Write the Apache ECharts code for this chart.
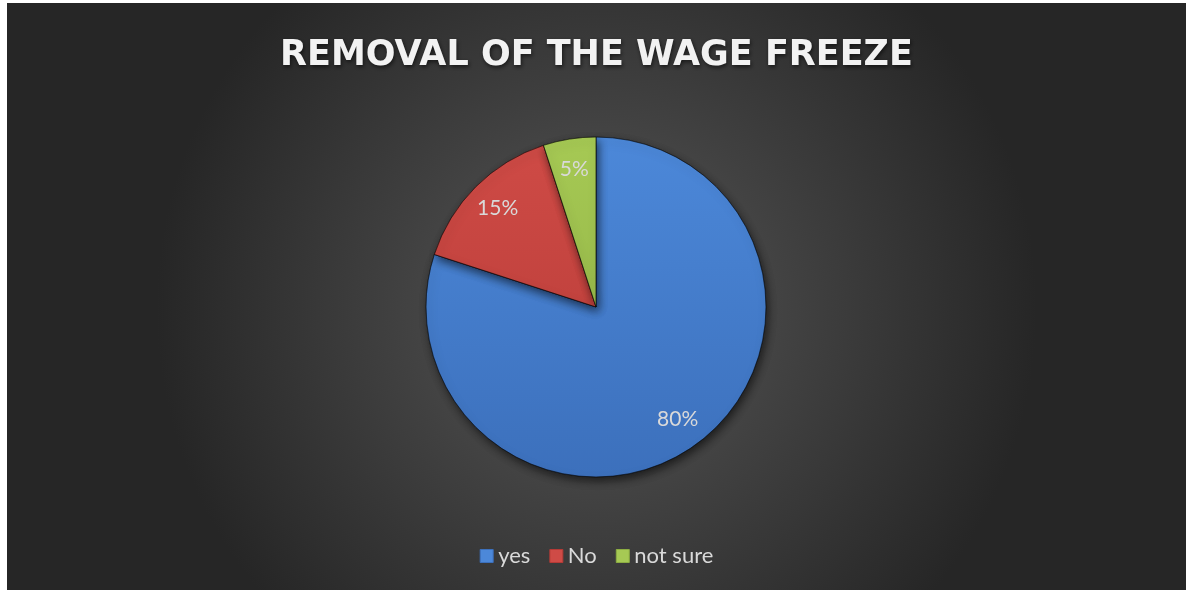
<!DOCTYPE html>
<html>
<head>
<meta charset="utf-8">
<script src="https://cdn.jsdelivr.net/npm/echarts@6/dist/echarts.min.js"></script>
<style>
  html, body { margin: 0; padding: 0; background: #fff; }
  #main { position: absolute; left: 7px; top: 3px; width: 1179px; height: 587px; }
</style>
</head>
<body>
<div id="main"></div>
<script>
const titleText = 'REMOVAL OF THE WAGE FREEZE';
const categories = ['yes', 'No', 'not sure'];
const values = [80, 15, 5];
const topColors = ['#4c88d9', '#cf4b46', '#a6c954'];
const bottomColors = ['#3c70bc', '#b53a36', '#8cad42'];

const cx = 589, cy = 304, r = 170;

function sliceColor(i) {
  return {
    type: 'linear', x: 0, y: cy - r, x2: 0, y2: cy + r, global: true,
    colorStops: [
      { offset: 0, color: topColors[i] },
      { offset: 1, color: bottomColors[i] }
    ]
  };
}

const chart = echarts.init(document.getElementById('main'));
chart.setOption({
  backgroundColor: {
    type: 'radial', x: 0.5, y: 0.52, r: 0.75,
    colorStops: [
      { offset: 0, color: '#575757' },
      { offset: 1, color: '#262626' }
    ]
  },
  title: {
    text: titleText,
    left: 'center',
    top: 30,
    textStyle: {
      color: '#f2f2f2',
      fontFamily: 'DejaVu Sans',
      fontWeight: 'bold',
      fontSize: 35,
      textShadowColor: 'rgba(0,0,0,0.6)',
      textShadowBlur: 4,
      textShadowOffsetX: 1,
      textShadowOffsetY: 2
    }
  },
  legend: {
    top: 537,
    left: 'center',
    icon: 'rect',
    itemWidth: 13,
    itemHeight: 13,
    itemGap: 19,
    textStyle: { color: '#d9d9d9', fontSize: 22, fontFamily: 'Lato' },
    data: categories.map(function (name, i) {
      return { name: name, itemStyle: { color: topColors[i], borderColor: bottomColors[i], borderWidth: 1 } };
    })
  },
  series: [
    {
      type: 'pie',
      center: [cx, cy],
      radius: r,
      startAngle: 90,
      clockwise: true,
      silent: true,
      label: { show: false },
      labelLine: { show: false },
      itemStyle: {
        borderColor: 'rgba(0,0,0,0.35)',
        borderWidth: 1,
        shadowColor: 'rgba(0,0,0,0.6)',
        shadowBlur: 10,
        shadowOffsetX: 2,
        shadowOffsetY: 4
      },
      data: categories.map(function (name, i) {
        return { name: name, value: values[i], itemStyle: { color: sliceColor(i) } };
      })
    },
    {
      type: 'pie',
      center: [cx, cy],
      radius: [r * 0.6, r],
      startAngle: 90,
      clockwise: true,
      silent: true,
      itemStyle: { color: 'rgba(0,0,0,0)' },
      label: {
        show: true,
        position: 'inside',
        formatter: '{c}%',
        color: '#d9d9d9',
        fontSize: 21,
        fontFamily: 'Lato'
      },
      labelLine: { show: false },
      data: categories.map(function (name, i) {
        return { name: name, value: values[i] };
      })
    }
  ]
});
</script>
</body>
</html>
